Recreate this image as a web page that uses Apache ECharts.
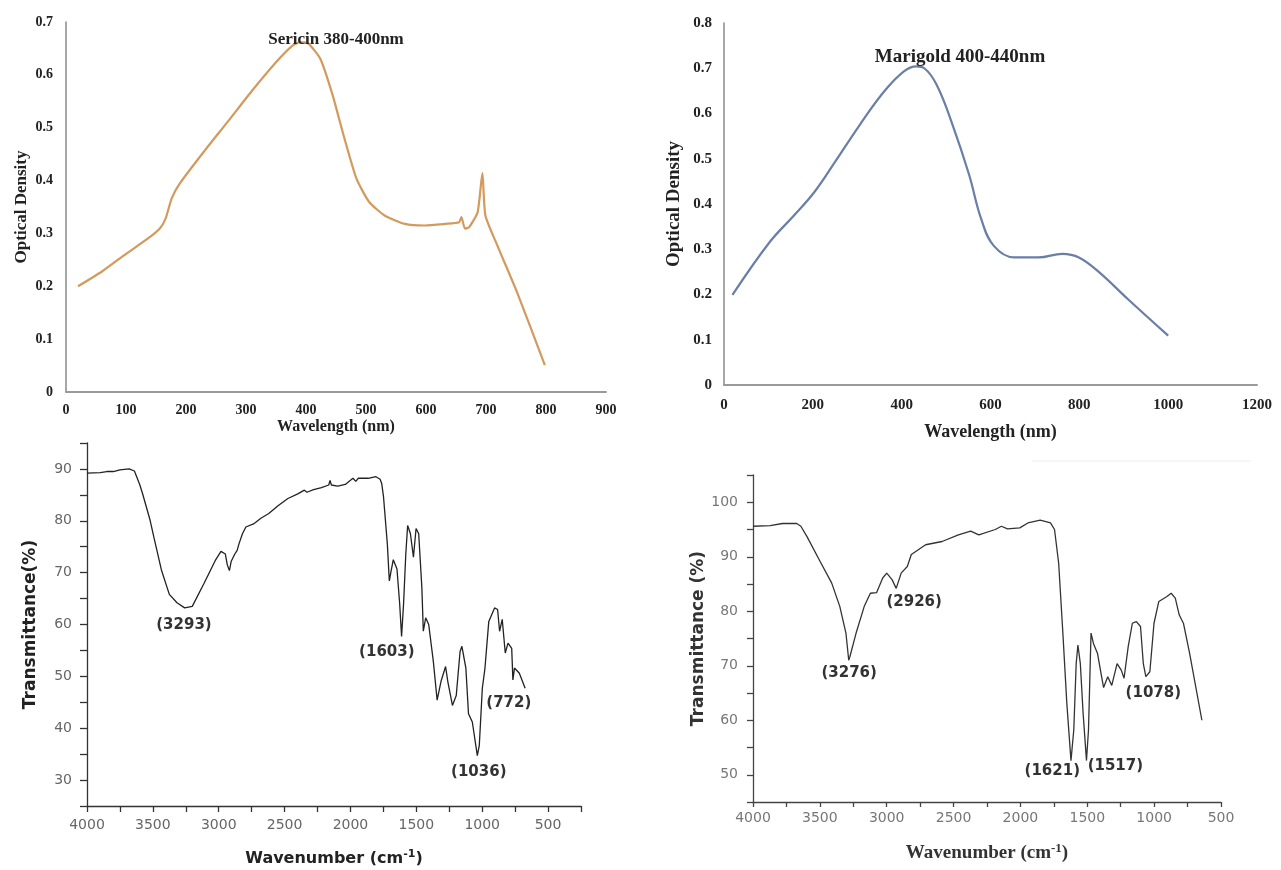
<!DOCTYPE html>
<html>
<head>
<meta charset="utf-8">
<script src="https://cdn.jsdelivr.net/npm/echarts@6/dist/echarts.min.js"></script>
<style>
  html, body { margin: 0; padding: 0; background: #fff; }
  #chart { width: 1281px; height: 870px; }
</style>
</head>
<body>
<div id="chart"></div>
<script>
// ---------- Data ----------
// Panel A: Sericin UV-Vis
const sericinWavelength = [20, 60, 96, 136, 156, 166, 176, 190, 230, 270, 310, 350, 377, 391, 404, 424, 444, 464, 484, 505, 531, 565, 598, 632, 655, 659, 665, 672, 686, 694, 699, 719, 752, 798];
const sericinOD = [0.200, 0.228, 0.258, 0.290, 0.309, 0.328, 0.366, 0.395, 0.455, 0.512, 0.570, 0.624, 0.655, 0.662, 0.659, 0.630, 0.563, 0.480, 0.404, 0.360, 0.334, 0.318, 0.315, 0.318, 0.321, 0.331, 0.309, 0.312, 0.340, 0.414, 0.334, 0.277, 0.188, 0.051];

// Panel B: Marigold UV-Vis
const marigoldWavelength = [19, 103, 158, 204, 250, 305, 360, 405, 433, 451, 479, 515, 552, 579, 607, 653, 708, 762, 799, 845, 909, 1000];
const marigoldOD = [0.199, 0.316, 0.375, 0.427, 0.493, 0.574, 0.648, 0.693, 0.704, 0.700, 0.663, 0.574, 0.464, 0.367, 0.308, 0.282, 0.282, 0.290, 0.282, 0.249, 0.190, 0.109];

// Panel C: FTIR (sericin)
const ftirAWavenumber = [4000, 3900, 3850, 3800, 3750, 3680, 3640, 3600, 3579, 3521, 3492, 3434, 3375, 3317, 3259, 3201, 3114, 3027, 2983, 2950, 2935, 2919, 2905, 2880, 2860, 2852, 2847, 2820, 2794, 2736, 2680, 2620, 2550, 2475, 2400, 2350, 2330, 2280, 2220, 2165, 2155, 2145, 2097, 2039, 2000, 1981, 1960, 1940, 1865, 1807, 1775, 1763, 1749, 1720, 1705, 1691, 1675, 1662, 1647, 1627, 1612, 1597, 1580, 1566, 1545, 1522, 1502, 1482, 1458, 1447, 1429, 1406, 1371, 1342, 1313, 1278, 1261, 1226, 1197, 1168, 1154, 1124, 1104, 1075, 1037, 1022, 999, 979, 950, 906, 883, 868, 848, 825, 804, 776, 767, 755, 718, 674];
const ftirATransmittance = [89.2, 89.3, 89.5, 89.5, 89.8, 90.0, 89.6, 87.0, 85.3, 80.1, 76.8, 70.4, 65.8, 64.2, 63.2, 63.5, 67.8, 72.3, 74.1, 73.6, 71.5, 70.4, 72.2, 73.5, 74.3, 74.6, 75.5, 77.5, 78.8, 79.4, 80.5, 81.4, 82.9, 84.3, 85.2, 85.9, 85.5, 86.0, 86.4, 86.9, 87.8, 86.9, 86.7, 87.0, 87.8, 88.2, 87.6, 88.2, 88.2, 88.5, 88.0, 87.2, 84.6, 75.5, 68.4, 70.4, 72.5, 72.3, 70.7, 64.2, 57.7, 63.9, 73.6, 79.1, 77.5, 73.0, 78.5, 77.5, 67.1, 58.7, 61.3, 60.0, 52.9, 45.4, 49.0, 51.9, 49.0, 44.4, 46.3, 54.8, 55.8, 51.6, 42.8, 41.2, 34.7, 36.7, 47.7, 51.6, 60.6, 63.2, 62.9, 58.7, 61.0, 54.5, 56.4, 55.4, 49.3, 51.6, 50.6, 47.7];
const ftirAPeakLabels = ['(3293)', '(1603)', '(1036)', '(772)'];
const ftirAPeakLabelX = [3264, 1724, 1026, 798];
const ftirAPeakLabelY = [59.9, 54.7, 31.6, 44.9];

// Panel D: FTIR (marigold)
const ftirBWavenumber = [4000, 3871, 3780, 3673, 3642, 3596, 3504, 3412, 3351, 3305, 3284, 3275, 3229, 3168, 3122, 3076, 3030, 3000, 2960, 2929, 2892, 2846, 2816, 2709, 2586, 2464, 2372, 2311, 2188, 2142, 2097, 2005, 1944, 1852, 1775, 1745, 1714, 1684, 1653, 1622, 1601, 1583, 1570, 1552, 1531, 1506, 1491, 1472, 1454, 1424, 1393, 1378, 1347, 1317, 1277, 1246, 1225, 1194, 1163, 1133, 1102, 1081, 1062, 1032, 1001, 965, 904, 873, 842, 812, 781, 735, 643];
const ftirBTransmittance = [95.6, 95.7, 96.1, 96.1, 95.6, 93.7, 89.4, 85.2, 80.9, 76.0, 71.0, 71.7, 76.0, 80.9, 83.3, 83.4, 86.1, 87.0, 85.8, 84.2, 87.0, 88.2, 90.4, 92.2, 92.8, 94.0, 94.7, 94.0, 95.0, 95.6, 95.1, 95.3, 96.2, 96.7, 96.2, 95.0, 88.8, 76.6, 63.1, 52.6, 58.2, 70.4, 73.8, 70.4, 61.2, 52.6, 58.2, 76.0, 74.1, 72.3, 68.0, 66.0, 68.0, 66.4, 70.4, 69.2, 67.7, 73.5, 77.8, 78.1, 77.2, 70.4, 68.0, 68.9, 77.8, 81.8, 82.7, 83.3, 82.4, 79.3, 77.8, 72.3, 60.0];
const ftirBPeakLabels = ['(3276)', '(2926)', '(1621)', '(1517)', '(1078)'];
const ftirBPeakLabelX = [3281, 2795, 1762, 1290, 1006];
const ftirBPeakLabelY = [68.7, 81.6, 50.6, 51.5, 65.0];

// ---------- Helpers ----------
const zip = (xs, ys) => xs.map((x, i) => [x, ys[i]]);
const peakPoints = (names, xs, ys) => names.map((n, i) => ({ name: n, coord: [xs[i], ys[i]] }));

const serif = 'Liberation Serif';
const sans = 'DejaVu Sans';

function topXAxis(gridIndex, max, interval, labelSize, margin, name, nameSize, nameGap) {
  return {
    type: 'value', gridIndex, min: 0, max, interval,
    axisLine: { show: true, lineStyle: { color: '#9a9a9a', width: 2 } },
    axisTick: { show: false },
    splitLine: { show: false },
    axisLabel: { color: '#222', fontFamily: serif, fontWeight: 'bold', fontSize: labelSize, margin,
      formatter: v => String(v) },
    name, nameLocation: 'middle', nameGap,
    nameTextStyle: { color: '#222', fontFamily: serif, fontWeight: 'bold', fontSize: nameSize }
  };
}
function topYAxis(gridIndex, max, labelSize, margin, name, nameSize, nameGap) {
  return {
    type: 'value', gridIndex, min: 0, max, interval: 0.1,
    axisLine: { show: true, lineStyle: { color: '#8a8a8a', width: 1.5 } },
    axisTick: { show: false },
    splitLine: { show: false },
    axisLabel: { color: '#222', fontFamily: serif, fontWeight: 'bold', fontSize: labelSize, margin,
      formatter: v => (Math.round(v * 10) / 10).toString() },
    name, nameLocation: 'middle', nameGap,
    nameTextStyle: { color: '#222', fontFamily: serif, fontWeight: 'bold', fontSize: nameSize }
  };
}

const option = {
  backgroundColor: '#ffffff',
  animation: false,
  title: [
    { text: 'Sericin 380-400nm', left: 331, top: 26, textAlign: 'center',
      textStyle: { fontFamily: serif, fontWeight: 'bold', fontSize: 17, color: '#222' } },
    { text: 'Marigold 400-440nm', left: 955, top: 43, textAlign: 'center',
      textStyle: { fontFamily: serif, fontWeight: 'bold', fontSize: 19, color: '#222' } }
  ],
  grid: [
    { left: 66, top: 22, width: 540, height: 370, containLabel: false, outerBoundsMode: 'none' },
    { left: 724, top: 23, width: 533, height: 362, containLabel: false, outerBoundsMode: 'none' },
    { left: 87, top: 443, width: 494, height: 363, containLabel: false, outerBoundsMode: 'none' },
    { left: 753, top: 475, width: 468, height: 327, containLabel: false, outerBoundsMode: 'none' }
  ],
  xAxis: [
    topXAxis(0, 900, 100, 14, 11, 'Wavelength (nm)', 16, 27),
    topXAxis(1, 1200, 200, 15, 13, 'Wavelength (nm)', 18, 38),
    {
      type: 'value', gridIndex: 2, min: 250, max: 4000, interval: 250, inverse: true,
      axisLine: { show: true, lineStyle: { color: '#333', width: 1.3 } },
      axisTick: { show: true, inside: false, length: 6, lineStyle: { color: '#333', width: 1.3 } },
      splitLine: { show: false },
      axisLabel: { color: '#666', fontFamily: sans, fontSize: 14, margin: 12,
        formatter: v => (v % 500 === 0 ? String(v) : '') },
      name: 'Wavenumber (cm{sup|-1})', nameLocation: 'middle', nameGap: 43,
      nameTextStyle: { color: '#222', fontFamily: sans, fontWeight: 'bold', fontSize: 16,
        rich: { sup: { fontFamily: sans, fontWeight: 'bold', fontSize: 11, color: '#222', verticalAlign: 'bottom', padding: [0, 0, 9, 0] } } }
    },
    {
      type: 'value', gridIndex: 3, min: 500, max: 4000, interval: 250, inverse: true,
      axisLine: { show: true, lineStyle: { color: '#444', width: 1.3 } },
      axisTick: { show: true, inside: false, length: 5, lineStyle: { color: '#444', width: 1.3 } },
      splitLine: { show: false },
      axisLabel: { color: '#777', fontFamily: sans, fontSize: 14, margin: 9,
        formatter: v => (v % 500 === 0 ? String(v) : '') },
      name: 'Wavenumber (cm{sup|-1})', nameLocation: 'middle', nameGap: 40,
      nameTextStyle: { color: '#333', fontFamily: serif, fontWeight: 'bold', fontSize: 19,
        rich: { sup: { fontFamily: serif, fontWeight: 'bold', fontSize: 13, color: '#333', verticalAlign: 'bottom', padding: [0, 0, 10, 0] } } }
    }
  ],
  yAxis: [
    topYAxis(0, 0.7, 14, 13, 'Optical Density', 17, 36),
    topYAxis(1, 0.8, 15, 12, 'Optical Density', 19, 40),
    {
      type: 'value', gridIndex: 2, min: 25, max: 95, interval: 5,
      axisLine: { show: true, lineStyle: { color: '#333', width: 1.3 } },
      axisTick: { show: true, inside: false, length: 7, lineStyle: { color: '#333', width: 1.3 } },
      splitLine: { show: false },
      axisLabel: { color: '#666', fontFamily: sans, fontSize: 14, margin: 15,
        formatter: v => (v % 10 === 0 ? String(v) : '') },
      name: 'Transmittance(%)', nameLocation: 'middle', nameGap: 48,
      nameTextStyle: { color: '#222', fontFamily: sans, fontWeight: 'bold', fontSize: 17 }
    },
    {
      type: 'value', gridIndex: 3, min: 45, max: 105, interval: 5,
      axisLine: { show: true, lineStyle: { color: '#444', width: 1.3 } },
      axisTick: { show: true, inside: false, length: 6, lineStyle: { color: '#444', width: 1.3 } },
      splitLine: { show: false },
      axisLabel: { color: '#777', fontFamily: sans, fontSize: 14, margin: 15,
        formatter: v => (v % 10 === 0 ? String(v) : '') },
      name: 'Transmittance (%)', nameLocation: 'middle', nameGap: 44,
      nameTextStyle: { color: '#333', fontFamily: sans, fontWeight: 'bold', fontSize: 17 }
    }
  ],
  graphic: [
    { type: 'line', shape: { x1: 1032, y1: 461, x2: 1251, y2: 461 }, style: { stroke: '#ececec', lineWidth: 1 }, silent: true }
  ],
  series: [
    {
      type: 'line', xAxisIndex: 0, yAxisIndex: 0, data: zip(sericinWavelength, sericinOD),
      smooth: 0.2, showSymbol: false,
      lineStyle: { color: '#d39a5e', width: 2.2 }
    },
    {
      type: 'line', xAxisIndex: 1, yAxisIndex: 1, data: zip(marigoldWavelength, marigoldOD),
      smooth: 0.4, showSymbol: false,
      lineStyle: { color: '#6a7ea6', width: 2.2 }
    },
    {
      type: 'line', xAxisIndex: 2, yAxisIndex: 2, data: zip(ftirAWavenumber, ftirATransmittance),
      showSymbol: false,
      lineStyle: { color: '#222', width: 1.3 },
      markPoint: {
        symbol: 'circle', symbolSize: 0, silent: true,
        label: { show: true, formatter: '{b}', color: '#333', fontFamily: sans, fontWeight: 'bold', fontSize: 15, position: 'inside' },
        data: peakPoints(ftirAPeakLabels, ftirAPeakLabelX, ftirAPeakLabelY)
      }
    },
    {
      type: 'line', xAxisIndex: 3, yAxisIndex: 3, data: zip(ftirBWavenumber, ftirBTransmittance),
      showSymbol: false,
      lineStyle: { color: '#333', width: 1.3 },
      markPoint: {
        symbol: 'circle', symbolSize: 0, silent: true,
        label: { show: true, formatter: '{b}', color: '#333', fontFamily: sans, fontWeight: 'bold', fontSize: 15, position: 'inside' },
        data: peakPoints(ftirBPeakLabels, ftirBPeakLabelX, ftirBPeakLabelY)
      }
    }
  ]
};

const chart = echarts.init(document.getElementById('chart'), null, { renderer: 'canvas' });
chart.setOption(option);
</script>
</body>
</html>
